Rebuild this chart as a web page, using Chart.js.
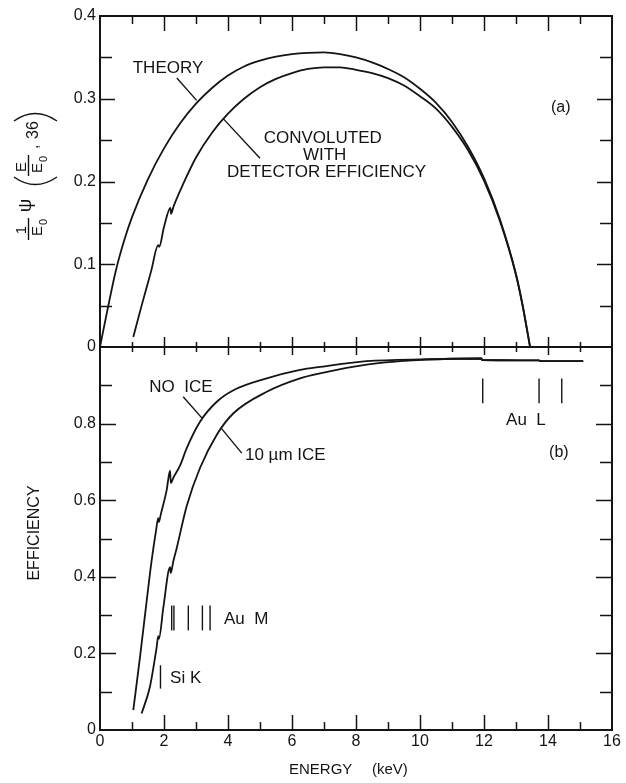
<!DOCTYPE html>
<html>
<head>
<meta charset="utf-8">
<title>Beta spectrum and detector efficiency</title>
<script src="https://cdn.jsdelivr.net/npm/chart.js@4.4.1/dist/chart.umd.min.js"></script>
<style>
  html, body { margin: 0; padding: 0; background: #fff; }
  #wrap { position: relative; width: 626px; height: 783px; }
  #wrap canvas { position: absolute; left: 0; top: 0; }
</style>
</head>
<body>
<div id="wrap">
  <canvas id="panelB" width="626" height="783"></canvas>
  <canvas id="panelA" width="626" height="783"></canvas>
</div>
<script>
// --- Panel (a): spectrum, keV vs. (1/E0) psi(E/E0, 36) ---
const THEORY_E = [0, 0.25, 0.5, 0.75, 1.0, 1.5, 2.0, 2.5, 3.0, 3.5, 4.0, 4.5, 5.0, 5.5, 6.0, 6.5, 7.0, 7.5, 8.0, 8.5, 9.0, 9.5, 10.0, 10.5, 11.0, 11.5, 12.0, 12.5, 13.0, 13.2, 13.44];
const THEORY_Y = [0, 0.048, 0.093, 0.128, 0.157, 0.203, 0.240, 0.270, 0.294, 0.313, 0.328, 0.339, 0.346, 0.351, 0.354, 0.3555, 0.356, 0.354, 0.350, 0.344, 0.336, 0.326, 0.312, 0.295, 0.272, 0.242, 0.204, 0.154, 0.088, 0.052, 0];

const CONV_E = [1.04, 1.3, 1.6, 1.82, 1.85, 2.0, 2.2, 2.22, 2.3, 2.6, 3.0, 3.5, 4.0, 4.5, 5.0, 5.5, 6.0, 6.5, 7.0, 7.5, 8.0, 8.5, 9.0, 9.5, 10.0, 10.5, 11.0, 11.5, 12.0, 12.5, 13.0, 13.2, 13.44];
const CONV_Y = [0.012, 0.05, 0.092, 0.123, 0.121, 0.145, 0.168, 0.161, 0.17, 0.197, 0.229, 0.259, 0.282, 0.300, 0.314, 0.324, 0.331, 0.336, 0.338, 0.338, 0.335, 0.331, 0.325, 0.316, 0.303, 0.288, 0.266, 0.238, 0.201, 0.152, 0.087, 0.051, 0];

// --- Panel (b): detector efficiency ---
const NOICE_E = [1.04, 1.25, 1.46, 1.61, 1.75, 1.82, 1.84, 1.9, 2.08, 2.19, 2.21, 2.3, 2.5, 2.71, 3.125, 3.65, 4.17, 5.21, 6.25, 6.875, 8.33, 10.2, 11.92, 11.94, 13.72, 13.75, 15.1];
const NOICE_Y = [0.052, 0.19, 0.338, 0.44, 0.52, 0.553, 0.543, 0.563, 0.625, 0.677, 0.645, 0.66, 0.69, 0.736, 0.805, 0.857, 0.887, 0.918, 0.94, 0.948, 0.963, 0.968, 0.97, 0.966, 0.965, 0.963, 0.963];

const ICE_E = [1.3, 1.56, 1.77, 1.82, 1.84, 1.98, 2.19, 2.21, 2.29, 2.4, 2.71, 3.125, 3.65, 4.17, 5.21, 6.25, 6.875, 8.33, 10.2, 11.92, 11.94, 13.72, 13.75, 15.1];
const ICE_Y = [0.043, 0.113, 0.216, 0.245, 0.238, 0.32, 0.425, 0.41, 0.44, 0.476, 0.585, 0.684, 0.771, 0.827, 0.883, 0.918, 0.931, 0.954, 0.967, 0.97, 0.966, 0.965, 0.963, 0.963];

// absorption edge markers (keV) and their vertical extent
const SI_K_EDGE = [1.89];
const SI_K_SPAN = [0.108, 0.169];
const AU_M_EDGES = [2.24, 2.31, 2.76, 3.20, 3.44];
const AU_M_SPAN = [0.26, 0.325];
const AU_L_EDGES = [11.96, 13.72, 14.43];
const AU_L_SPAN = [0.853, 0.918];

// leader lines from labels to curves
const THEORY_LEADER = [[2.40, 0.325], [3.02, 0.298]];
const CONV_LEADER = [[3.85, 0.276], [5.0, 0.228]];
const NOICE_LEADER = [[2.6, 0.870], [3.18, 0.815]];
const ICE_LEADER = [[3.8, 0.787], [4.43, 0.723]];

const INK = '#141414';
const FONT = "'Liberation Sans', Arial, Helvetica, sans-serif";

function curve(xs, ys) {
    return {
        data: xs.map((x, i) => ({ x, y: ys[i] })),
        borderColor: INK,
        borderWidth: 1.8,
        pointRadius: 0,
        fill: false,
        cubicInterpolationMode: 'monotone'
    };
}

function segment(pts) {
    return {
        data: pts.map(([x, y]) => ({ x, y })),
        borderColor: INK,
        borderWidth: 1.4,
        pointRadius: 0,
        fill: false,
        tension: 0
    };
}

function edgeMarks(edges, span) {
    return edges.map(e => segment([[e, span[0]], [e, span[1]]]));
}

// inward ticks on all four sides plus the box
function frameTicks(cfg) {
    return {
        id: 'frameTicks',
        afterDatasetsDraw(chart) {
            const { ctx, chartArea: a, scales: { x, y } } = chart;
            ctx.save();
            ctx.strokeStyle = INK;
            ctx.lineWidth = 1.5;
            ctx.beginPath();
            for (let i = 1; i < 16; i++) {
                const px = Math.round(x.getPixelForValue(i)) + 0.5;
                const major = i % 2 === 0;
                const b = major ? cfg.bottom[0] : cfg.bottom[1];
                const t = major ? cfg.top[0] : cfg.top[1];
                ctx.moveTo(px, a.bottom); ctx.lineTo(px, a.bottom - b);
                ctx.moveTo(px, a.top); ctx.lineTo(px, a.top + t);
            }
            const n = Math.round((y.max - y.min) / cfg.yMinor);
            for (let j = 1; j < n; j++) {
                const py = Math.round(y.getPixelForValue(y.min + j * cfg.yMinor)) + 0.5;
                const l = j % 2 === 0 ? cfg.side[0] : cfg.side[1];
                ctx.moveTo(a.left, py); ctx.lineTo(a.left + l, py);
                ctx.moveTo(a.right, py); ctx.lineTo(a.right - l, py);
            }
            ctx.stroke();
            ctx.lineWidth = 2;
            ctx.strokeRect(a.left, a.top, a.right - a.left, a.bottom - a.top);
            ctx.restore();
        }
    };
}

// text labels placed in data units
function textMarks(items, extra) {
    return {
        id: 'textMarks',
        afterDraw(chart) {
            const { ctx, scales: { x, y } } = chart;
            ctx.save();
            ctx.fillStyle = INK;
            ctx.textBaseline = 'middle';
            items.forEach(t => {
                ctx.font = `${t.size || 17}px ${FONT}`;
                ctx.textAlign = t.align || 'center';
                ctx.fillText(t.text, x.getPixelForValue(t.x), y.getPixelForValue(t.y));
            });
            if (extra) extra(ctx);
            ctx.restore();
        }
    };
}

// (1/E0) psi (E/E0, 36), written bottom-to-top
function drawPsiTitle(ctx) {
    ctx.save();
    ctx.translate(28, 240);
    ctx.rotate(-Math.PI / 2);
    ctx.fillStyle = INK;
    ctx.strokeStyle = INK;
    ctx.textBaseline = 'alphabetic';
    ctx.textAlign = 'center';

    // 1 / E0
    ctx.font = `15px ${FONT}`;
    ctx.fillText('1', 10, -2.5);
    ctx.fillText('E', 9, 14);
    ctx.font = `11px ${FONT}`;
    ctx.fillText('0', 18, 19);
    ctx.lineWidth = 1.4;
    ctx.beginPath();
    ctx.moveTo(0, 0.5); ctx.lineTo(22, 0.5);
    ctx.stroke();

    // psi
    ctx.font = `19px ${FONT}`;
    ctx.fillText('ψ', 34.5, 3);

    // big parentheses
    ctx.lineWidth = 1.5;
    ctx.beginPath();
    ctx.moveTo(63, -14); ctx.quadraticCurveTo(48, 7, 63, 29);
    ctx.moveTo(119, -14); ctx.quadraticCurveTo(134, 7, 119, 29);
    ctx.stroke();

    // E / E0
    ctx.font = `15px ${FONT}`;
    ctx.fillText('E', 73, -2.5);
    ctx.fillText('E', 72, 14);
    ctx.font = `11px ${FONT}`;
    ctx.fillText('0', 81, 19);
    ctx.lineWidth = 1.4;
    ctx.beginPath();
    ctx.moveTo(64, 0.5); ctx.lineTo(85, 0.5);
    ctx.stroke();

    // , 36
    ctx.font = `16px ${FONT}`;
    ctx.textAlign = 'left';
    ctx.fillText(',', 91, 10);
    ctx.fillText('36', 101, 10);
    ctx.restore();
}

function drawBottomTitles(ctx) {
    ctx.save();
    ctx.fillStyle = INK;
    ctx.textBaseline = 'middle';
    ctx.textAlign = 'left';
    ctx.font = `15px ${FONT}`;
    ctx.fillText('ENERGY', 289, 769.5);
    ctx.fillText('(keV)', 372, 769.5);

    ctx.translate(35, 533);
    ctx.rotate(-Math.PI / 2);
    ctx.textAlign = 'center';
    ctx.font = `16px ${FONT}`;
    ctx.fillText('EFFICIENCY', 0, 0);
    ctx.restore();
}

const tickFont = { family: FONT, size: 16 };

function yAxis(max, step) {
    return {
        min: 0,
        max: max,
        afterFit: s => { s.width = 100; },
        grid: { display: false, drawTicks: false },
        border: { display: false },
        ticks: {
            stepSize: step,
            padding: 4,
            color: INK,
            font: tickFont,
            callback: v => (v >= 1 ? '' : String(v))
        }
    };
}

const common = {
    responsive: false,
    animation: false,
    devicePixelRatio: 1,
    events: []
};

// --- Panel (a) ---
new Chart(document.getElementById('panelA'), {
    type: 'line',
    data: {
        datasets: [
            curve(THEORY_E, THEORY_Y),
            curve(CONV_E, CONV_Y),
            segment(THEORY_LEADER),
            segment(CONV_LEADER)
        ]
    },
    options: {
        ...common,
        layout: { padding: { left: 0, right: 14, top: 16, bottom: 436 } },
        plugins: { legend: { display: false }, tooltip: { enabled: false } },
        scales: {
            x: { type: 'linear', min: 0, max: 16, display: false },
            y: yAxis(0.4, 0.1)
        }
    },
    plugins: [
        frameTicks({ top: [15, 8], bottom: [10, 5], side: [15, 12], yMinor: 0.05 }),
        textMarks([
            { text: 'THEORY', x: 2.125, y: 0.337 },
            { text: 'CONVOLUTED', x: 6.96, y: 0.252 },
            { text: 'WITH', x: 7.02, y: 0.232 },
            { text: 'DETECTOR EFFICIENCY', x: 7.08, y: 0.211 },
            { text: '(a)', x: 14.4, y: 0.289, size: 16 }
        ], drawPsiTitle)
    ]
});

// --- Panel (b) ---
new Chart(document.getElementById('panelB'), {
    type: 'line',
    data: {
        datasets: [
            curve(NOICE_E, NOICE_Y),
            curve(ICE_E, ICE_Y),
            segment(NOICE_LEADER),
            segment(ICE_LEADER),
            ...edgeMarks(SI_K_EDGE, SI_K_SPAN),
            ...edgeMarks(AU_M_EDGES, AU_M_SPAN),
            ...edgeMarks(AU_L_EDGES, AU_L_SPAN)
        ]
    },
    options: {
        ...common,
        layout: { padding: { left: 0, right: 14, top: 347, bottom: 0 } },
        plugins: { legend: { display: false }, tooltip: { enabled: false } },
        scales: {
            x: {
                type: 'linear',
                min: 0,
                max: 16,
                afterFit: s => { s.height = 53; },
                grid: { display: false, drawTicks: false },
                border: { display: false },
                ticks: { stepSize: 2, padding: 2, maxRotation: 0, autoSkip: false, color: INK, font: tickFont }
            },
            y: yAxis(1.0, 0.2)
        }
    },
    plugins: [
        frameTicks({ top: [8, 5], bottom: [15, 8], side: [16, 12], yMinor: 0.1 }),
        textMarks([
            { text: 'NO  ICE', x: 2.53, y: 0.896 },
            { text: '10 µm ICE', x: 4.53, y: 0.717, align: 'left' },
            { text: 'Au  L', x: 13.31, y: 0.809 },
            { text: '(b)', x: 14.34, y: 0.723, size: 16 },
            { text: 'Au  M', x: 3.875, y: 0.288, align: 'left' },
            { text: 'Si K', x: 2.19, y: 0.135, align: 'left' }
        ], drawBottomTitles)
    ]
});
</script>
</body>
</html>
